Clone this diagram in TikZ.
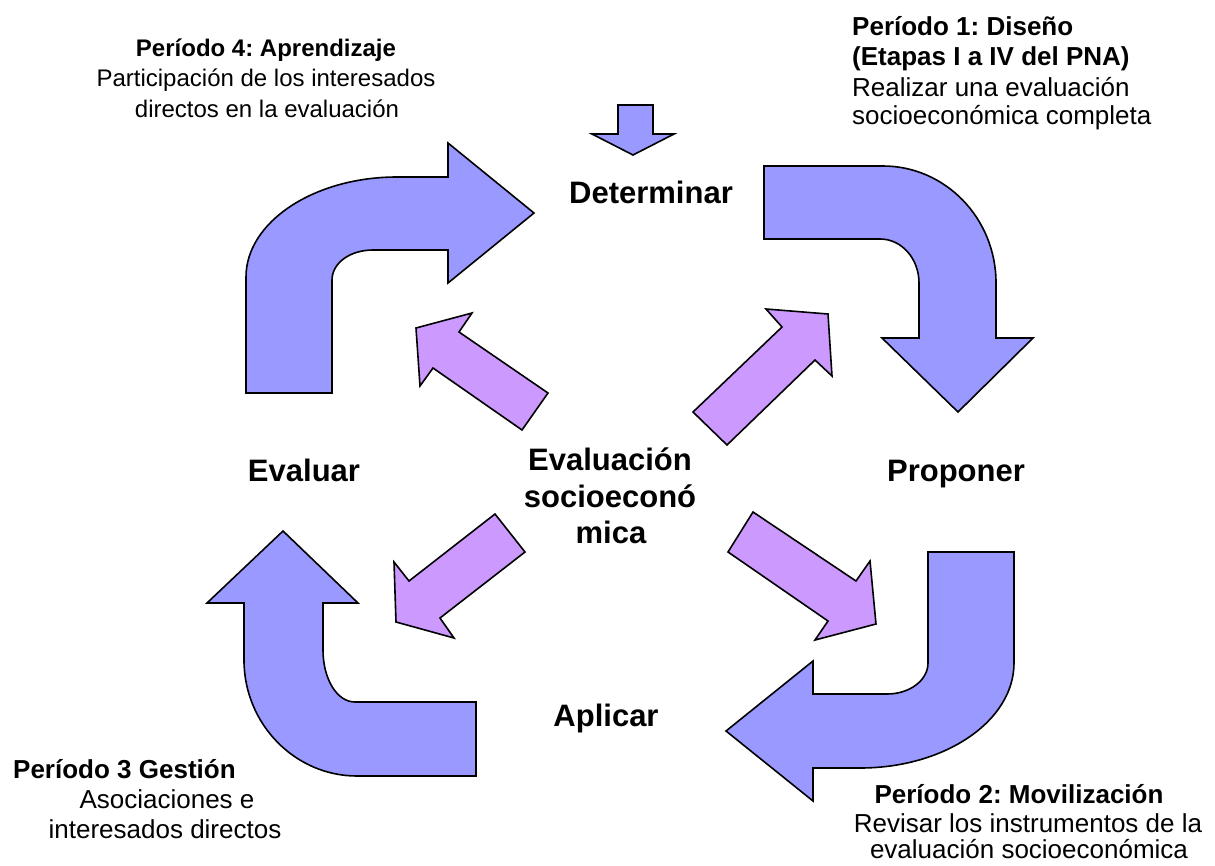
\documentclass[tikz,border=0pt]{standalone}
\usepackage{fontspec}
\setmainfont{Liberation Sans}
\frenchspacing
\definecolor{arrblue}{HTML}{9999FF}
\definecolor{arrpurple}{HTML}{CC99FF}
\newcommand\lblfont{\fontsize{31}{36}\selectfont\bfseries}
\newcommand\txtfont{\fontsize{26}{30}\selectfont}
\newcommand\tlfont{\fontsize{24}{30}\selectfont}
\begin{document}
\begin{tikzpicture}[x=1pt,y=-1pt,
  bluearrow/.style={fill=arrblue,draw=black,line width=1.6pt,line join=miter},
  purplearrow/.style={fill=arrpurple,draw=black,line width=1.6pt,line join=miter},
  lbl/.style={font=\lblfont,inner sep=0pt,anchor=base},
  txt/.style={font=\txtfont,inner sep=0pt,anchor=base},
  txtb/.style={font=\txtfont\bfseries,inner sep=0pt,anchor=base},
  tl/.style={font=\tlfont,inner sep=0pt,anchor=base},
  tlb/.style={font=\tlfont\bfseries,inner sep=0pt,anchor=base}]
\useasboundingbox (0,0) rectangle (1215,865);
\fill[white] (0,0) rectangle (1215,865);

% small top arrow
\draw[bluearrow] (618,105) -- (653,105) -- (653,134) -- (674,134) -- (633,155) -- (592,134) -- (618,134) -- cycle;

% top-left bent arrow
\draw[bluearrow] (246,393) -- (246,277) .. controls (246,222) and (314,177) .. (397,177)
  -- (448,177) -- (448,143) -- (534,213) -- (448,283) -- (448,250) -- (373,250)
  .. controls (350,250) and (332,263) .. (332,280) -- (332,393) -- cycle;

% top-right bent arrow
\draw[bluearrow] (764,166) -- (883,166) .. controls (945,166) and (996,218) .. (996,283)
  -- (996,338) -- (1033,338) -- (958,412) -- (882,338) -- (919,338) -- (919,283)
  .. controls (919,259) and (902,239) .. (880,239) -- (764,239) -- cycle;

% bottom-right bent arrow
\draw[bluearrow] (928,552) -- (1014,552) -- (1014,663) .. controls (1014,721) and (945,768) .. (860,768)
  -- (813,768) -- (813,801) -- (726,731) -- (813,661) -- (813,694) -- (887,694)
  .. controls (910,694) and (928,680) .. (928,663) -- cycle;

% bottom-left bent arrow
\draw[bluearrow] (283,531) -- (358,603) -- (323,603) -- (323,650) .. controls (323,679) and (337,702) .. (355,702)
  -- (476,702) -- (476,776) -- (357,776) .. controls (295,776) and (244,724) .. (244,660)
  -- (244,603) -- (207,603) -- cycle;

% purple arrows
\draw[purplearrow] (416,328) -- (472,313) -- (459,332) -- (548,393) -- (522,430) -- (433,368) -- (420,386) -- cycle;
\draw[purplearrow] (828,314) -- (766,309) -- (782,327) -- (693,412) -- (727,445) -- (815,360) -- (832,376) -- cycle;
\draw[purplearrow] (396,622) -- (394,562) -- (409,581) -- (495,514) -- (525,552) -- (440,618) -- (454,638) -- cycle;
\draw[purplearrow] (876,624) -- (870,561) -- (856,581) -- (753,512) -- (728,552) -- (828,621) -- (815,640) -- cycle;

% central labels
\node[lbl] (det) at (651,203) {Determinar};
\node[lbl] (eva) at (304,481) {Evaluar};
\node[lbl] (pro) at (956,481) {Proponer};
\node[lbl] (apl) at (606,726) {Aplicar};
\node[lbl] (c1) at (610,470) {Evaluación};
\node[lbl] (c2) at (610,507) {socioeconó};
\node[lbl] (c3) at (611,543) {mica};

% period 4 (top left)
\node[tlb] (p4a) at (266,56) {Período 4: Aprendizaje};
\node[tl] (p4b) at (266,86) {Participación de los interesados};
\node[tl] (p4c) at (267,117) {directos en la evaluación};

% period 1 (top right)
\node[txtb,anchor=base west] (p1a) at (852,35) {Período 1: Diseño};
\node[txtb,anchor=base west] (p1b) at (852,65) {(Etapas I a IV del PNA)};
\node[txt,anchor=base west] (p1c) at (852,96) {Realizar una evaluación};
\node[txt,anchor=base west] (p1d) at (852,124) {socioeconómica completa};

% period 3 (bottom left)
\node[txtb,anchor=base west] (p3a) at (13,778) {Período 3 Gestión};
\node[txt] (p3b) at (167,808) {Asociaciones e};
\node[txt] (p3c) at (165,838) {interesados directos};

% period 2 (bottom right)
\node[txtb] (p2a) at (1019,803) {Período 2: Movilización};
\node[txt] (p2b) at (1028,832) {Revisar los instrumentos de la};
\node[txt] (p2c) at (1029,858) {evaluación socioeconómica};
\end{tikzpicture}
\end{document}
